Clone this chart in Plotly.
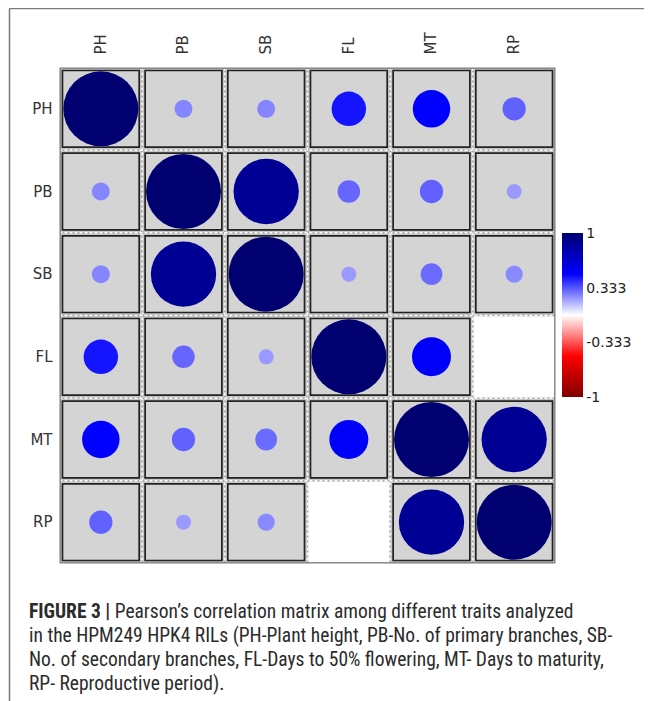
import plotly.graph_objects as go

# ---------------- data ----------------
traits = ["PH", "PB", "SB", "FL", "MT", "RP"]
corr = [
    [1.00, 0.24, 0.24, 0.46, 0.50, 0.31],
    [0.24, 1.00, 0.87, 0.30, 0.31, 0.20],
    [0.24, 0.87, 1.00, 0.20, 0.29, 0.23],
    [0.46, 0.30, 0.20, 1.00, 0.52, 0.02],
    [0.50, 0.31, 0.29, 0.52, 1.00, 0.87],
    [0.31, 0.20, 0.23, 0.02, 0.87, 1.00],
]
cbar_vals = [1, 0.333, -0.333, -1]
cbar_text = ["1", "0.333", "-0.333", "-1"]
caption_lines = [
    "<b>FIGURE 3 |</b> Pearson’s correlation matrix among different traits analyzed",
    "in the HPM249 HPK4 RILs (PH-Plant height, PB-No. of primary branches, SB-",
    "No. of secondary branches, FL-Days to 50% flowering, MT- Days to maturity,",
    "RP- Reproductive period).",
]

OFF = 8  # browser body margin
W, H = 652 - OFF, 701 - OFF


def px(x):
    return (x - OFF) / W


def py(y):
    return 1 - (y - OFF) / H


n = len(traits)
colorscale = [[0.0, "#7F0000"], [0.25, "#FF0000"], [0.5, "#FFFFFF"],
              [0.75, "#0000FF"], [1.0, "#000070"]]

xs, ys, sizes, cols = [], [], [], []
for i in range(n):
    for j in range(n):
        r = corr[i][j]
        xs.append(j + 0.5)
        ys.append(i + 0.5)
        sizes.append(abs(r) * 75)
        cols.append(r)

fig = go.Figure()
fig.add_trace(go.Scatter(
    x=xs, y=ys, mode="markers",
    marker=dict(size=sizes, color=cols, colorscale=colorscale, cmin=-1, cmax=1,
                line=dict(width=0), opacity=1,
                colorbar=dict(x=px(562), xanchor="left", y=py(315), yanchor="middle",
                              len=164 / H, lenmode="fraction", thickness=21,
                              xpad=0, ypad=0, outlinewidth=0,
                              tickvals=cbar_vals, ticktext=cbar_text, ticks="",
                              tickfont=dict(family="DejaVu Sans", size=14, color="#222"))),
    hoverinfo="skip", showlegend=False))

shapes = []
shapes.append(dict(type="rect", x0=0, x1=n, y0=0, y1=n, xref="x", yref="y",
                   fillcolor="#C6C6C6", line=dict(width=0), layer="below"))
ins = 0.036
for i in range(n):
    for j in range(n):
        if abs(corr[i][j]) >= 0.1:
            shapes.append(dict(type="rect", x0=j + ins, x1=j + 1 - ins, y0=i + ins, y1=i + 1 - ins,
                               xref="x", yref="y", fillcolor="#D4D4D4",
                               line=dict(color="#222222", width=1.7), layer="below"))
        else:
            shapes.append(dict(type="rect", x0=j, x1=j + 1, y0=i, y1=i + 1,
                               xref="x", yref="y", fillcolor="#FFFFFF",
                               line=dict(width=0), layer="below"))
for k in range(1, n):
    for (c, d) in [("#A8A8A8", "solid"), ("#FFFFFF", "3px,2px")]:
        shapes.append(dict(type="line", x0=k, x1=k, y0=0, y1=n, xref="x", yref="y",
                           line=dict(color=c, width=1.5, dash=d), layer="below"))
        shapes.append(dict(type="line", x0=0, x1=n, y0=k, y1=k, xref="x", yref="y",
                           line=dict(color=c, width=1.5, dash=d), layer="below"))
shapes.append(dict(type="rect", x0=0, x1=n, y0=0, y1=n, xref="x", yref="y",
                   line=dict(color="#8A8A8A", width=3), layer="below"))
# page frame lines
shapes.append(dict(type="line", xref="paper", yref="paper", x0=px(9.5), x1=1, y0=py(8.5), y1=py(8.5),
                   line=dict(color="#7A7A7A", width=1.5)))
shapes.append(dict(type="line", xref="paper", yref="paper", x0=px(9.5), x1=px(9.5), y0=0, y1=py(8.5),
                   line=dict(color="#7A7A7A", width=1.5)))

annotations = []
line_y = [611, 635, 659, 683]
for t, yy in zip(caption_lines, line_y):
    annotations.append(dict(text=t, xref="paper", yref="paper", x=px(27), y=py(yy),
                            xanchor="left", yanchor="middle", showarrow=False, align="left",
                            font=dict(family="Liberation Sans Narrow, Roboto Condensed, Liberation Sans, sans-serif",
                                      size=19.5, color="#2B2B2B")))

tick_font = dict(family="DejaVu Sans", size=15, color="#333")
fig.update_layout(
    width=W, height=H, margin=dict(l=0, r=0, t=0, b=0),
    paper_bgcolor="white", plot_bgcolor="white",
    shapes=shapes, annotations=annotations,
    xaxis=dict(domain=[px(59.5), px(555.5)], range=[0, n], side="top",
               tickvals=[j + 0.5 for j in range(n)], ticktext=traits, tickangle=-90,
               showgrid=False, zeroline=False, showline=False, ticks="",
               ticklabelstandoff=12, tickfont=tick_font, automargin=False, fixedrange=True),
    yaxis=dict(domain=[py(563.5), py(67.5)], range=[n, 0],
               tickvals=[i + 0.5 for i in range(n)], ticktext=traits,
               showgrid=False, zeroline=False, showline=False, ticks="",
               ticklabelstandoff=6, tickfont=tick_font, automargin=False, fixedrange=True),
)
fig.write_html("out.html")
